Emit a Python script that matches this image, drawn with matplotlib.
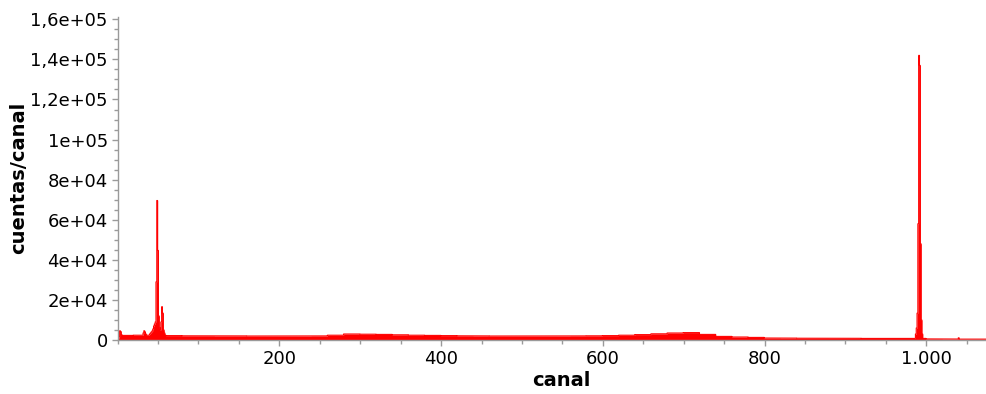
import numpy as np
import matplotlib
matplotlib.use("Agg")
import matplotlib.pyplot as plt
from matplotlib.ticker import MultipleLocator, FixedLocator, FuncFormatter

# Continuum level of the spectrum, one value per 20-channel block (0, 20, 40, ... 1060)
block_width = 20
continuum = [
    2300, 2400, 2600, 2200, 2100, 2100, 2050, 2050, 2000, 2000,
    2000, 2000, 2050, 2400, 3000, 2900, 2800, 2600, 2400, 2300,
    2200, 2100, 2050, 2000, 2000, 2000, 2000, 2000, 2050, 2100,
    2200, 2400, 2700, 3100, 3500, 3700, 2800, 1800, 1500, 1300,
    1000, 950, 900, 900, 850, 850, 800, 800, 800, 800,
    550, 500, 450, 450,
]

# Channels with peaks and their counts
peak_channels = [
    1, 2, 3, 4, 5, 6,
    32, 33, 34, 35,
    40, 41, 42, 43, 44, 45, 46, 47, 48, 49, 50, 51, 52, 53, 54, 55, 56, 57, 58, 59,
    987, 988, 989, 990, 991, 992, 993, 994, 995,
    1040,
]
peak_counts = [
    800, 1500, 4600, 4200, 2600, 2300,
    3500, 4600, 4000, 3000,
    3000, 3500, 4000, 4500, 5500, 7000, 8000, 9000, 29000, 69600,
    44700, 12000, 6000, 5000, 9000, 16600, 13400, 5000, 3500, 2500,
    3000, 6000, 13400, 58000, 142000, 137000, 48000, 10000, 3000,
    1100,
]

n_channels = len(continuum) * block_width
channels = np.arange(n_channels)
counts = np.repeat(np.array(continuum, dtype=float), block_width)
counts[peak_channels] = peak_counts

plt.rcParams["font.family"] = ["DejaVu Sans"]

fig = plt.figure(figsize=(9.87, 3.94), dpi=100)
ax = fig.add_axes([0.1191, 0.137, 0.8809, 0.8206])

ax.fill_between(channels, counts, step="mid", color="#ff0000", linewidth=0)
ax.step(channels, counts, where="mid", color="#ff0000", linewidth=0.8)

ax.set_xlim(0, 1075)
ax.set_ylim(0, 161300)

ax.xaxis.set_major_locator(FixedLocator([200, 400, 600, 800, 1000]))
ax.xaxis.set_minor_locator(MultipleLocator(50))
ax.yaxis.set_major_locator(MultipleLocator(20000))
ax.yaxis.set_minor_locator(MultipleLocator(5000))


def fmt_y(v, pos):
    if v == 0:
        return "0"
    return "{:.2g}".format(v).replace(".", ",")


def fmt_x(v, pos):
    return "{:,}".format(int(round(v))).replace(",", ".")


ax.yaxis.set_major_formatter(FuncFormatter(fmt_y))
ax.xaxis.set_major_formatter(FuncFormatter(fmt_x))

for side in ["top", "right"]:
    ax.spines[side].set_visible(False)
for side in ["left", "bottom"]:
    ax.spines[side].set_color("#9a9a9a")
    ax.spines[side].set_linewidth(1.0)

ax.tick_params(which="major", direction="out", length=4, width=1,
               color="#9a9a9a", labelsize=13, pad=3, labelcolor="black")
ax.tick_params(which="minor", direction="out", length=3, width=1, color="#9a9a9a")

ax.set_xlabel("canal", fontsize=14, fontweight="bold")
ax.set_ylabel("cuentas/canal", fontsize=14, fontweight="bold")
ax.xaxis.set_label_coords(0.51, -0.095)
ax.yaxis.set_label_coords(-0.103, 0.5)

fig.savefig("out.png", dpi=100)
